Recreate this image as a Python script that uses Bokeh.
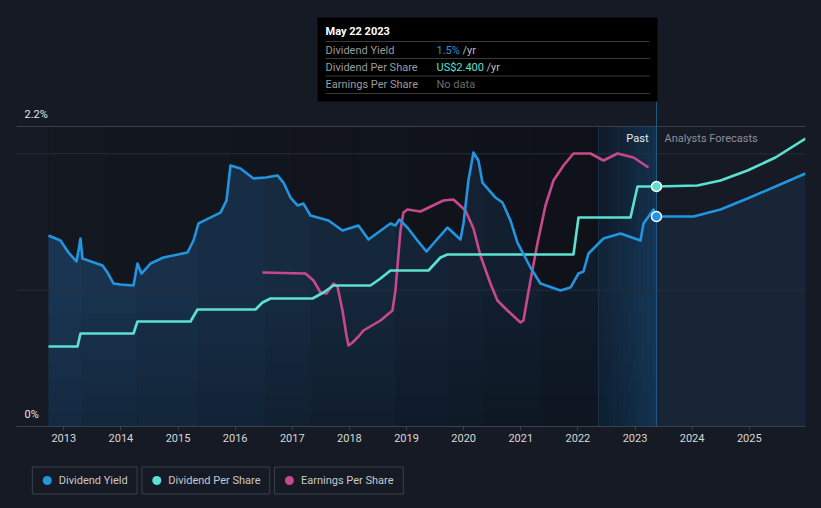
import numpy as np
from bokeh.plotting import figure
from bokeh.layouts import column
from bokeh.models import Range1d, FixedTicker
from bokeh.core.properties import value
from bokeh.embed import file_html
from bokeh.resources import INLINE

# ---------------- data ----------------
tick_years = list(range(2013, 2026))

# Dividend yield (%), past
yield_x = [2012.732, 2012.942, 2013.082, 2013.222, 2013.257, 2013.292, 2013.327, 2013.678, 2013.765,
           2013.870, 2013.993, 2014.220, 2014.290, 2014.360, 2014.518, 2014.745, 2015.165, 2015.270,
           2015.358, 2015.743, 2015.848, 2015.918, 2016.093, 2016.321, 2016.531, 2016.741, 2016.846,
           2016.969, 2017.091, 2017.196, 2017.319, 2017.634, 2017.879, 2018.159, 2018.333, 2018.719,
           2018.806, 2018.876, 2019.016, 2019.191, 2019.349, 2019.471, 2019.716, 2019.944, 2019.997,
           2020.084, 2020.172, 2020.259, 2020.329, 2020.557, 2020.680, 2020.820, 2020.942, 2021.170,
           2021.345, 2021.695, 2021.870, 2022.011, 2022.098, 2022.186, 2022.448, 2022.746, 2023.096,
           2023.149, 2023.324, 2023.376]
yield_y = [1.401, 1.364, 1.276, 1.210, 1.291, 1.379, 1.232, 1.181, 1.129,
           1.049, 1.041, 1.034, 1.195, 1.122, 1.195, 1.239, 1.276, 1.364,
           1.489, 1.569, 1.657, 1.914, 1.892, 1.819, 1.826, 1.841, 1.789,
           1.679, 1.621, 1.635, 1.547, 1.511, 1.437, 1.474, 1.371, 1.489,
           1.474, 1.518, 1.459, 1.364, 1.283, 1.342, 1.459, 1.371, 1.489,
           1.804, 2.009, 1.951, 1.789, 1.679, 1.643, 1.511, 1.349, 1.166,
           1.049, 0.997, 1.019, 1.122, 1.137, 1.269, 1.379, 1.415, 1.364,
           1.489, 1.591, 1.540]
# Dividend yield forecast (%)
yield_fc_x = [2023.376, 2024.024, 2024.497, 2024.970, 2025.460, 2025.985]
yield_fc_y = [1.540, 1.540, 1.591, 1.672, 1.760, 1.855]

# Dividend per share (US$)
dps_x = [2012.732, 2013.240, 2013.292, 2014.220, 2014.290, 2015.218, 2015.340, 2016.356, 2016.478,
         2016.618, 2017.354, 2017.546, 2017.721, 2018.369, 2018.544, 2018.719, 2019.384, 2019.594,
         2019.716, 2021.923, 2022.011, 2022.921, 2023.044, 2023.376]
dps_y = [0.80, 0.80, 0.93, 0.93, 1.05, 1.05, 1.17, 1.17, 1.24,
         1.28, 1.28, 1.34, 1.41, 1.41, 1.48, 1.56, 1.56, 1.69,
         1.72, 1.72, 2.09, 2.09, 2.40, 2.40]
dps_fc_x = [2023.376, 2024.094, 2024.497, 2024.970, 2025.460, 2025.985]
dps_fc_y = [2.40, 2.41, 2.46, 2.56, 2.69, 2.88]

# Earnings per share (US$)
eps_x = [2016.478, 2017.231, 2017.371, 2017.494, 2017.599, 2017.721, 2017.791, 2017.879, 2017.949,
         2017.984, 2018.054, 2018.159, 2018.246, 2018.544, 2018.754, 2018.806, 2018.894, 2018.946,
         2019.016, 2019.244, 2019.646, 2019.821, 2020.032, 2020.172, 2020.294, 2020.469, 2020.592,
         2020.767, 2020.995, 2021.047, 2021.117, 2021.170, 2021.292, 2021.433, 2021.573, 2021.748,
         2021.923, 2022.221, 2022.448, 2022.694, 2022.974, 2023.236]
eps_y = [3.08, 3.06, 2.92, 2.68, 2.66, 2.86, 2.80, 2.32, 1.82,
         1.62, 1.68, 1.80, 1.92, 2.12, 2.32, 2.72, 3.92, 4.28,
         4.34, 4.30, 4.52, 4.54, 4.32, 3.96, 3.42, 2.86, 2.52,
         2.32, 2.08, 2.12, 2.58, 2.92, 3.66, 4.42, 4.92, 5.22,
         5.46, 5.46, 5.32, 5.46, 5.38, 5.18]

cursor_date = 2023.376
tooltip_title = "May 22 2023"
tooltip_labels = ["Dividend Yield", "Dividend Per Share", "Earnings Per Share"]
tooltip_values = ["1.5%", "US$2.400", "No data"]
legend_labels = ["Dividend Yield", "Dividend Per Share", "Earnings Per Share"]
y_labels = ["2.2%", "0%"]

# ---------------- style ----------------
BG = "#151a24"
BLUE = "#2394df"
TEAL = "#5ce1d0"
PINK = "#c8488c"
FONT = value("Roboto")


def X(px):
    # pixel helper for decorations (frame x 16..805)
    return 2013 + (px - 63.3) / 57.12


def Y(py):
    # pixel helper for decorations (frame y 0..426)
    return (426 - py) / 136.36


def mix(c1, c2, t):
    a = [int(c1[i:i + 2], 16) for i in (1, 3, 5)]
    b = [int(c2[i:i + 2], 16) for i in (1, 3, 5)]
    return "#" + "".join("%02x" % round(a[k] + (b[k] - a[k]) * t) for k in range(3))


p = figure(width=821, height=456, x_range=Range1d(X(16), X(805)), y_range=Range1d(0, Y(0)),
           output_backend="svg", toolbar_location=None, y_axis_type=None,
           min_border_left=16, min_border_right=16, min_border_top=0, min_border_bottom=30,
           background_fill_color=BG, border_fill_color=BG, outline_line_color=None,
           styles={"background-color": BG})
p.extra_y_ranges = {"dps": Range1d(0, 4.26), "eps": Range1d(0, 8.52)}
p.xgrid.visible = False

ax = p.xaxis[0]
ax.ticker = FixedTicker(ticks=tick_years)
ax.formatter.use_scientific = False
ax.axis_line_color = "#3b414c"
ax.major_tick_line_color = "#3b414c"
ax.major_tick_in = 0
ax.major_tick_out = 4
ax.minor_tick_line_color = None
ax.major_label_text_color = "#d8d8d8"
ax.major_label_text_font = "Roboto"
ax.major_label_text_font_size = "11px"
ax.major_label_standoff = 3

# darker past background (horizontal shading, lighter on the left); base layer avoids seams
p.quad(left=[yield_x[0]], right=[cursor_date], top=[2.2], bottom=[0], fill_color="#111419", line_color=None)
nb = 10
for i in range(nb):
    l = yield_x[0] + (cursor_date - yield_x[0]) * i / nb
    r = yield_x[0] + (cursor_date - yield_x[0]) * (i + 1) / nb
    p.quad(left=[l], right=[r], top=[2.2], bottom=[0], fill_color=mix("#13171f", "#0e1118", i / (nb - 1)),
           line_color=None)

# yield area fill, past: base layer then chunks drifting darker to the right
p.varea(x=yield_x, y1=[0] * len(yield_x), y2=yield_y, fill_color="#162a40")
cuts = [0, 6, 12, 18, 24, 30, 36, 42, 48, 54, 60, len(yield_x) - 1]
for k in range(len(cuts) - 1):
    a, b = cuts[k], cuts[k + 1]
    xs = yield_x[a:b + 1]
    ys = yield_y[a:b + 1]
    t = min(1.0, (0.5 * (xs[0] + xs[-1]) - 2012.7) / (2021.9 - 2012.7))
    p.varea(x=xs, y1=[0] * len(xs), y2=ys, fill_color=mix("#1a3653", "#111c2a", t))
# forecast fill
p.varea(x=yield_fc_x, y1=[0] * len(yield_fc_x), y2=yield_fc_y, fill_color="#182537")

# vertical darkening in lower part of the past fill
nv = 8
for i in range(nv):
    lo = 0.95 * i / nv
    hi = 0.95 * (i + 1) / nv
    p.quad(left=[yield_x[0]], right=[cursor_date], top=[hi], bottom=[lo], fill_color="#000000",
           fill_alpha=0.22 * (1 - (i + 0.5) / nv), line_color=None)

# past band gradient
n = 12
for i in range(n):
    l = X(598 + i * (656 - 598) / n)
    r = X(598 + (i + 1) * (656 - 598) / n)
    p.quad(left=[l], right=[r], top=[2.2], bottom=[0], fill_color="#1b5285",
           fill_alpha=0.16 + 0.03 * i, line_color=None)
p.segment(x0=[X(598)], x1=[X(598)], y0=[0], y1=[2.2], line_color="#24496c", line_alpha=0.45, line_width=1)

# gridlines
p.segment(x0=[X(16)] * 2, x1=[X(805)] * 2, y0=[1, 2], y1=[1, 2], line_color="#262d39", line_width=1)
p.segment(x0=[X(16)], x1=[X(805)], y0=[2.2], y1=[2.2], line_color="#3a404b", line_width=1)

# cursor line
p.segment(x0=[cursor_date], x1=[cursor_date], y0=[0], y1=[Y(101)], line_color="#1f5a88", line_width=1)

# lines
p.line(eps_x, eps_y, y_range_name="eps", line_color=PINK, line_width=2.6, line_join="round")
p.line(dps_x + dps_fc_x[1:], dps_y + dps_fc_y[1:], y_range_name="dps", line_color=TEAL, line_width=2.6,
       line_join="round")
p.line(yield_x + yield_fc_x[1:], yield_y + yield_fc_y[1:], line_color=BLUE, line_width=2.6,
       line_join="round")

p.scatter([cursor_date], [dps_y[-1]], y_range_name="dps", size=10, fill_color=TEAL, line_color="white",
          line_width=1.5)
p.scatter([cursor_date], [yield_y[-1]], size=10, fill_color=BLUE, line_color="white", line_width=1.5)

# y labels
p.text(x=[X(24), X(24)], y=[Y(114), Y(414)], text=y_labels, text_font=FONT, text_font_size="11px",
       text_color="#e6e6e6", text_baseline="middle")

# Past / Analysts Forecasts
p.text(x=[X(648)], y=[Y(138)], text=["Past"], text_font=FONT, text_font_size="11px",
       text_color="#e8e8e8", text_baseline="middle", text_align="right")
p.text(x=[X(664)], y=[Y(138)], text=["Analysts Forecasts"], text_font=FONT, text_font_size="11px",
       text_color="#8a9099", text_baseline="middle")

# tooltip
p.quad(left=[X(317)], right=[X(657)], top=[Y(17)], bottom=[Y(101)], fill_color="#000000", line_color=None)
p.segment(x0=[X(325)] * 4, x1=[X(649)] * 4, y0=[Y(41), Y(58), Y(75.5), Y(93)],
          y1=[Y(41), Y(58), Y(75.5), Y(93)], line_color="#3a3a3a", line_width=1)
p.text(x=[X(325)], y=[Y(31)], text=[tooltip_title], text_font=FONT, text_font_size="11px",
       text_font_style="bold", text_color="#ffffff", text_baseline="middle")
row_y = [Y(49.5), Y(66.5), Y(84)]
p.text(x=[X(325)] * 3, y=row_y, text=tooltip_labels, text_font=FONT, text_font_size="11px",
       text_color="#9b9b9b", text_baseline="middle")
p.text(x=[X(436)] * 3, y=row_y, text=tooltip_values, text_font=FONT, text_font_size="11px",
       text_color=[BLUE, TEAL, "#6a6a6a"], text_baseline="middle")
p.text(x=[X(462), X(486)], y=row_y[:2], text=["/yr", "/yr"], text_font=FONT, text_font_size="11px",
       text_color="#bdbdbd", text_baseline="middle")

# ---------------- legend ----------------
lg = figure(width=821, height=52, x_range=Range1d(0, 821), y_range=Range1d(52, 0),
            output_backend="svg", toolbar_location=None, x_axis_type=None, y_axis_type=None,
            min_border=0, background_fill_color=BG, border_fill_color=BG, outline_line_color=None,
            styles={"background-color": BG})
lg.quad(left=[16.5, 130.5, 268.5], right=[125.5, 263.5, 402.5], top=[10.5] * 3, bottom=[37.5] * 3,
        fill_color=None, line_color="#3a3f4a", line_width=1)
lg.scatter(x=[32, 146, 284], y=[24] * 3, size=9, fill_color=[BLUE, TEAL, PINK], line_color=None)
lg.text(x=[44, 158, 296], y=[24] * 3, text=legend_labels, text_font=FONT, text_font_size="11px",
        text_color="#c9c9c9", text_baseline="middle")

layout = column(p, lg, spacing=0, styles={"background-color": BG})
open("out.html", "w").write(file_html(layout, INLINE))
